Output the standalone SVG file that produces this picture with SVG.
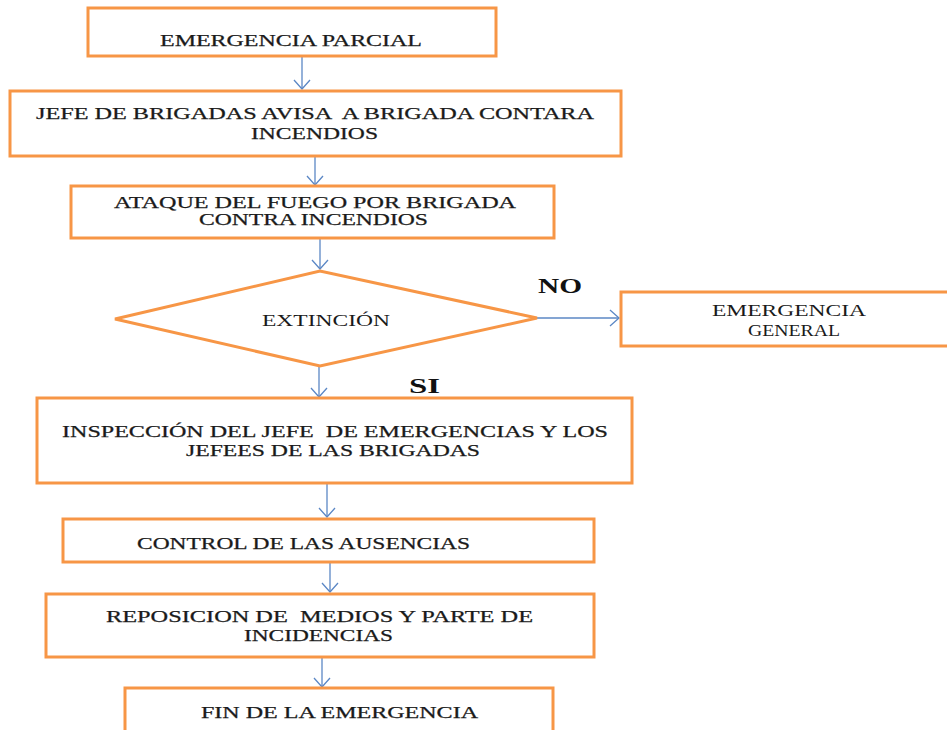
<svg xmlns="http://www.w3.org/2000/svg" width="947" height="730" viewBox="0 0 947 730">
<defs>
<marker id="arr" markerWidth="20" markerHeight="20" refX="10" refY="10" orient="auto" markerUnits="userSpaceOnUse">
<path d="M1,2 L10,10 L1,18" fill="none" stroke="#5B87C5" stroke-width="1.3"/>
</marker>
</defs>
<style>
.box{fill:#fff;stroke:#F79646;stroke-width:3}
.t{font-family:"Liberation Serif","Times New Roman",serif;font-size:16px;fill:#1a1a1a;stroke:#1a1a1a;stroke-width:0.25;white-space:pre}
.r{font-family:"Liberation Serif","Times New Roman",serif;font-size:16px;fill:#1a1a1a}
.b{font-family:"Liberation Serif","Times New Roman",serif;font-size:20px;font-weight:bold;fill:#111}
.c{fill:none;stroke:#5B87C5;stroke-width:1.3;marker-end:url(#arr)}
</style>
<rect width="947" height="730" fill="#fff"/>
<g id="connectors">
<line class="c" x1="302" y1="57" x2="302" y2="89"/>
<line class="c" x1="315" y1="157" x2="315" y2="185"/>
<line class="c" x1="320" y1="239" x2="320" y2="269"/>
<line class="c" x1="537" y1="318" x2="619" y2="318"/>
<line class="c" x1="319" y1="366" x2="319" y2="397"/>
<line class="c" x1="327" y1="484" x2="327" y2="517"/>
<line class="c" x1="330" y1="563" x2="330" y2="592"/>
<line class="c" x1="322" y1="658" x2="322" y2="687"/>
</g>
<g id="n1">
<rect class="box" x="88" y="8" width="408" height="48"/>
<text class="t" x="160" y="46" textLength="262" lengthAdjust="spacingAndGlyphs">EMERGENCIA PARCIAL</text>
</g>
<g id="n2">
<rect class="box" x="10" y="91" width="611" height="65"/>
<text class="t" xml:space="preserve" x="36" y="119" textLength="558" lengthAdjust="spacingAndGlyphs">JEFE DE BRIGADAS AVISA  A BRIGADA CONTARA</text>
<text class="t" x="251" y="139" textLength="127" lengthAdjust="spacingAndGlyphs">INCENDIOS</text>
</g>
<g id="n3">
<rect class="box" x="71" y="186" width="483" height="52"/>
<text class="t" x="114" y="208" textLength="402" lengthAdjust="spacingAndGlyphs">ATAQUE DEL FUEGO POR BRIGADA</text>
<text class="t" x="199" y="225" textLength="229" lengthAdjust="spacingAndGlyphs">CONTRA INCENDIOS</text>
</g>
<g id="n4">
<polygon class="box" points="115,319 320,271 537,318 320,366"/>
<text class="r" x="262" y="326" textLength="128" lengthAdjust="spacingAndGlyphs">EXTINCIÓN</text>
</g>
<g id="labels">
<text class="b" x="538" y="293" textLength="44" lengthAdjust="spacingAndGlyphs">NO</text>
<text class="b" x="409" y="393" textLength="31" lengthAdjust="spacingAndGlyphs">SI</text>
</g>
<g id="n5">
<rect class="box" x="621" y="292" width="330" height="54"/>
<text class="r" x="712" y="316" textLength="154" lengthAdjust="spacingAndGlyphs">EMERGENCIA</text>
<text class="r" x="748" y="336" textLength="92" lengthAdjust="spacingAndGlyphs">GENERAL</text>
</g>
<g id="n6">
<rect class="box" x="37" y="398" width="595" height="85"/>
<text class="t" xml:space="preserve" x="62" y="437" textLength="546" lengthAdjust="spacingAndGlyphs">INSPECCIÓN DEL JEFE  DE EMERGENCIAS Y LOS</text>
<text class="t" x="186" y="456" textLength="294" lengthAdjust="spacingAndGlyphs">JEFEES DE LAS BRIGADAS</text>
</g>
<g id="n7">
<rect class="box" x="63" y="519" width="531" height="43"/>
<text class="t" x="137" y="549" textLength="333" lengthAdjust="spacingAndGlyphs">CONTROL DE LAS AUSENCIAS</text>
</g>
<g id="n8">
<rect class="box" x="46" y="594" width="548" height="63"/>
<text class="t" xml:space="preserve" x="106" y="622" textLength="427" lengthAdjust="spacingAndGlyphs">REPOSICION DE  MEDIOS Y PARTE DE</text>
<text class="t" x="244" y="641" textLength="149" lengthAdjust="spacingAndGlyphs">INCIDENCIAS</text>
</g>
<g id="n9">
<rect class="box" x="125" y="688" width="428" height="50"/>
<text class="t" x="201" y="718" textLength="277" lengthAdjust="spacingAndGlyphs">FIN DE LA EMERGENCIA</text>
</g>
</svg>
